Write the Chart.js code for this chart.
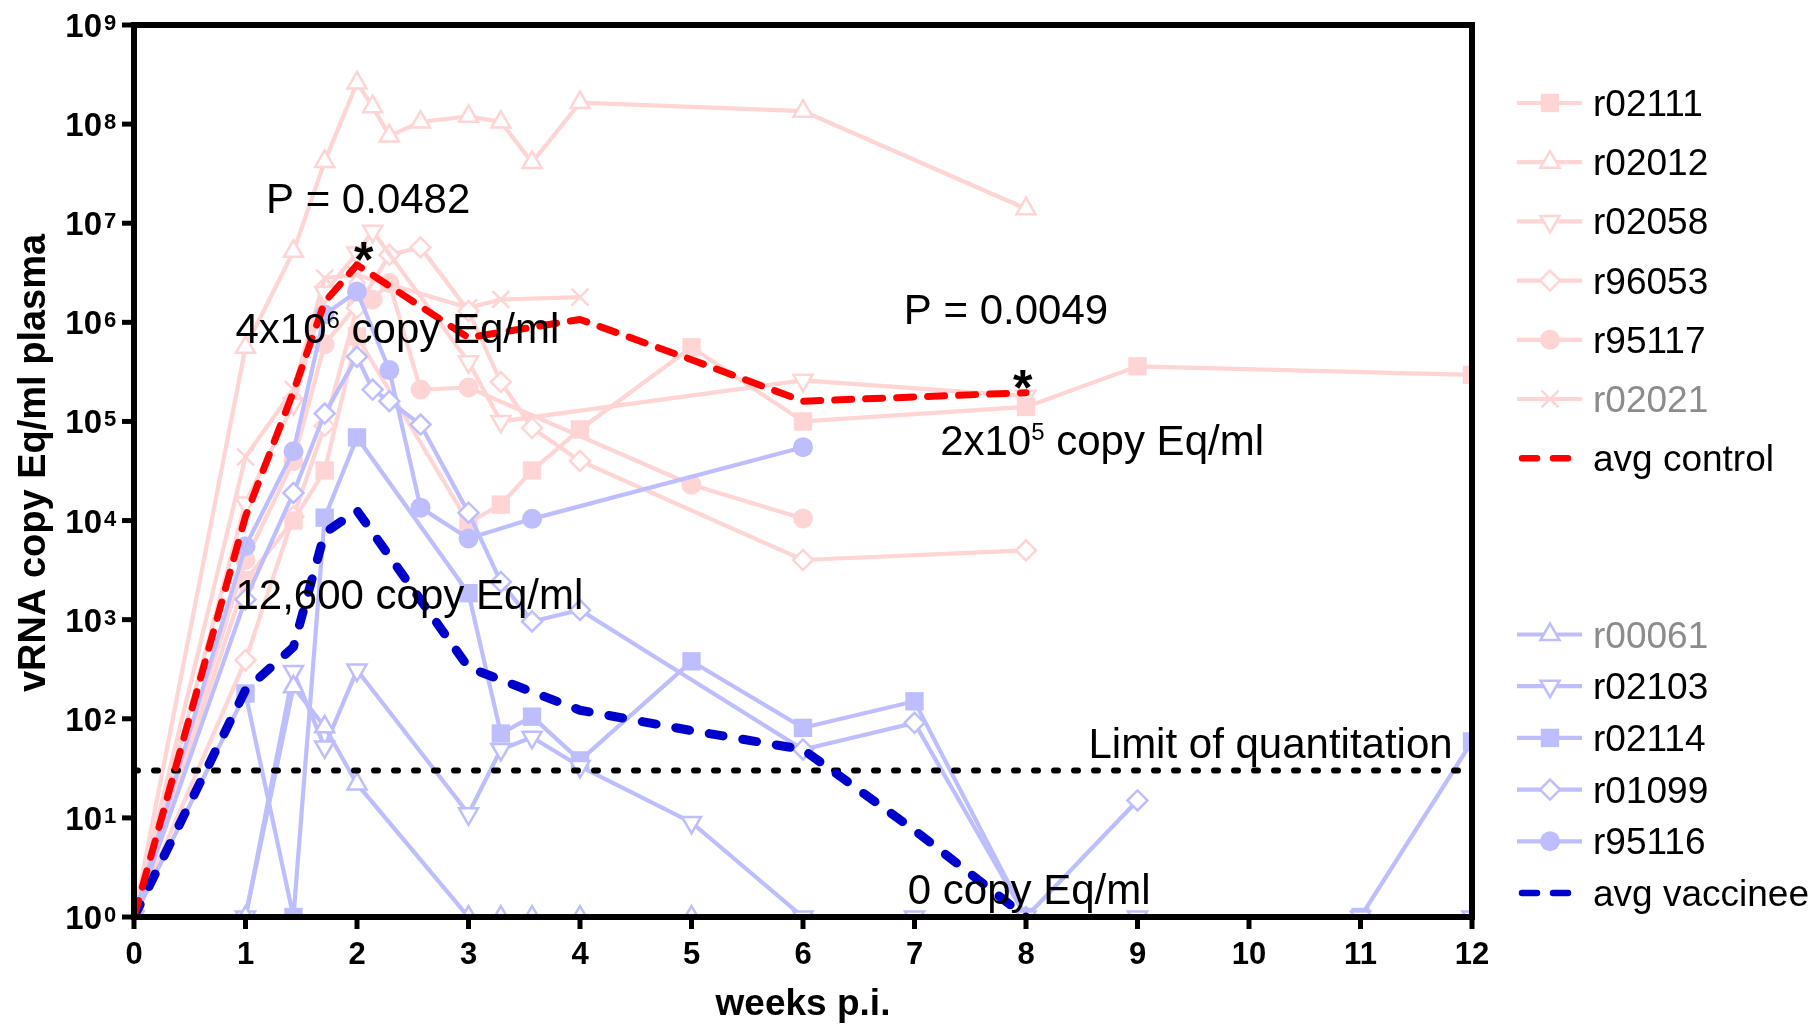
<!DOCTYPE html>
<html>
<head>
<meta charset="utf-8">
<title>vRNA copy Eq/ml plasma</title>
<script src="https://cdn.jsdelivr.net/npm/chart.js@4.4.0/dist/chart.umd.min.js"></script>
<style>
  html, body { margin: 0; padding: 0; background: #fff; }
  canvas { display: block; }
</style>
</head>
<body>
<canvas id="vl-chart" width="1817" height="1024"></canvas>
<script>
const FONT = "'Liberation Sans', Arial, sans-serif";
const PINK = "rgb(255, 212, 212)";
const LIGHT_BLUE = "rgb(190, 190, 255)";

// axis ticks
const weekTicks = [0, 1, 2, 3, 4, 5, 6, 7, 8, 9, 10, 11, 12];
const decadeExponents = [0, 1, 2, 3, 4, 5, 6, 7, 8, 9];

// controls (weeks p.i. / copy Eq/ml)
const r02111Weeks = [0, 1, 1.43, 1.71, 2, 3, 3.29, 3.57, 4, 5, 6, 8, 9, 12];
const r02111Values = [1, 2500, 10000, 32000, 720000, 9500, 14500, 32000, 83000, 560000, 100000, 140000, 360000, 295000];

const r02012Weeks = [0, 1, 1.43, 1.71, 2, 2.14, 2.29, 2.57, 3, 3.29, 3.57, 4, 6, 8];
const r02012Values = [1, 560000, 5200000, 42000000, 260000000, 150000000, 76000000, 105000000, 120000000, 105000000, 41000000, 165000000, 135000000, 14000000];

const r02058Weeks = [0, 1, 1.43, 1.71, 2, 2.14, 3, 3.29, 6, 8];
const r02058Values = [1, 15000, 150000, 2000000, 5000000, 8300000, 400000, 100000, 260000, 180000];

const r96053Weeks = [0, 1, 1.43, 1.71, 2, 2.29, 2.57, 3, 3.29, 3.57, 4, 6, 8];
const r96053Values = [1, 390, 11000, 90000, 1400000, 4800000, 5700000, 1300000, 250000, 86000, 40000, 4000, 5000];

const r95117Weeks = [0, 1, 1.43, 1.71, 2, 2.14, 2.29, 2.57, 3, 5, 6];
const r95117Values = [1, 4000, 40000, 600000, 1500000, 1700000, 2500000, 210000, 220000, 23000, 10500];

const r02021Weeks = [0, 1, 1.43, 1.71, 2, 3, 3.29, 4];
const r02021Values = [1, 44000, 210000, 2800000, 3000000, 1400000, 1700000, 1800000];

const avgControlWeeks = [0, 1, 1.43, 1.71, 2, 3, 4, 5, 6, 8];
const avgControlValues = [1, 11000, 200000, 1600000, 3800000, 700000, 1070000, 420000, 160000, 195000];

// vaccinees
const r00061Weeks = [0, 1, 1.43, 1.71, 2, 3, 3.29, 3.57, 4, 5];
const r00061Values = [1, 1, 210, 83, 22, 1, 1, 1, 1, 1];

const r02103Weeks = [0, 1, 1.43, 1.71, 2, 3, 3.29, 3.57, 4, 5, 6, 7, 8, 9, 11, 12];
const r02103Values = [1, 1, 300, 52, 310, 11, 49, 65, 33, 9, 1, 1, 1, 1, 1, 1];

const r02114Weeks = [0, 1, 1.43, 1.71, 2, 3, 3.29, 3.57, 4, 5, 6, 7, 8, 11, 12];
const r02114Values = [1, 180, 1, 10700, 69000, 1850, 71, 105, 38, 380, 81, 150, 1, 1, 59];

const r01099Weeks = [0, 1, 1.43, 1.71, 2, 2.14, 2.29, 2.57, 3, 3.29, 3.57, 4, 6, 7, 8, 9];
const r01099Values = [1, 1600, 19000, 120000, 450000, 210000, 160000, 93000, 12000, 2400, 960, 1250, 49, 91, 1, 15];

const r95116Weeks = [0, 1, 1.43, 1.71, 2, 2.29, 2.57, 3, 3.57, 6];
const r95116Values = [1, 5500, 50000, 1200000, 2050000, 330000, 13500, 6600, 10400, 55000];

const avgVaccineeWeeks = [0, 1, 1.43, 1.71, 2, 3, 4, 5, 6, 7, 8];
const avgVaccineeValues = [1, 195, 530, 7500, 12600, 330, 122, 76, 49, 7.5, 1];

const limitOfQuantitation = 30;

// text placed on the plot, anchored at [week, copies]
const annotations = [
  { parts: [{ t: "P = 0.0482" }], at: [2.10, 1.8e7], align: "center" },
  { parts: [{ t: "*" }], at: [2.06, 5.5e6], align: "center", star: true },
  { parts: [{ t: "4x10" }, { t: "6", sup: true }, { t: " copy Eq/ml" }], at: [0.91, 8.8e5], align: "left" },
  { parts: [{ t: "P = 0.0049" }], at: [7.82, 1.38e6], align: "center" },
  { parts: [{ t: "*" }], at: [7.97, 2.8e5], align: "center", star: true },
  { parts: [{ t: "2x10" }, { t: "5", sup: true }, { t: " copy Eq/ml" }], at: [7.23, 6.5e4], align: "left" },
  { parts: [{ t: "12,600 copy Eq/ml" }], at: [0.91, 1.8e3], align: "left" },
  { parts: [{ t: "Limit of quantitation" }], at: [8.56, 57], align: "left" },
  { parts: [{ t: "0 copy Eq/ml" }], at: [6.94, 1.9], align: "left" }
];

const SQUARE = { style: "rect", radius: 13 };
const TRIANGLE_UP = { style: "triangle", radius: 11, open: true };
const TRIANGLE_DOWN = { style: "triangle", radius: 11, rotation: 180, open: true };
const DIAMOND = { style: "rectRot", radius: 10, open: true };
const CIRCLE = { style: "circle", radius: 10 };
const CROSS = { style: "crossRot", radius: 12, open: true };

function toPoints(weeks, values) {
    return weeks.map((w, i) => ({ x: w, y: values[i] }));
}

function individual(label, weeks, values, color, marker, order) {
    return {
        label: label,
        data: toPoints(weeks, values),
        borderColor: color,
        borderWidth: 4.2,
        pointStyle: marker.style,
        pointRadius: marker.radius,
        pointRotation: marker.rotation || 0,
        pointBackgroundColor: marker.open ? "#ffffff" : color,
        pointBorderColor: color,
        pointBorderWidth: marker.open ? 2.5 : 0,
        order: order
    };
}

function average(label, weeks, values, color, width, dash) {
    return {
        label: label,
        data: toPoints(weeks, values),
        borderColor: color,
        borderWidth: width,
        borderDash: dash,
        borderCapStyle: "round",
        borderJoinStyle: "round",
        pointRadius: 0,
        average: true,
        order: 0
    };
}

const datasets = [
    individual("r02111", r02111Weeks, r02111Values, PINK, SQUARE, 3),
    individual("r02012", r02012Weeks, r02012Values, PINK, TRIANGLE_UP, 3),
    individual("r02058", r02058Weeks, r02058Values, PINK, TRIANGLE_DOWN, 3),
    individual("r96053", r96053Weeks, r96053Values, PINK, DIAMOND, 3),
    individual("r95117", r95117Weeks, r95117Values, PINK, CIRCLE, 3),
    individual("r02021", r02021Weeks, r02021Values, PINK, CROSS, 3),
    average("avg control", avgControlWeeks, avgControlValues, "#ff0000", 7, [17, 14]),
    individual("r00061", r00061Weeks, r00061Values, LIGHT_BLUE, TRIANGLE_UP, 2),
    individual("r02103", r02103Weeks, r02103Values, LIGHT_BLUE, TRIANGLE_DOWN, 2),
    individual("r02114", r02114Weeks, r02114Values, LIGHT_BLUE, SQUARE, 2),
    individual("r01099", r01099Weeks, r01099Values, LIGHT_BLUE, DIAMOND, 2),
    individual("r95116", r95116Weeks, r95116Values, LIGHT_BLUE, CIRCLE, 2),
    average("avg vaccinee", avgVaccineeWeeks, avgVaccineeValues, "#0000cc", 9, [14, 20]),
    {
        label: "LoQ",
        data: [{ x: weekTicks[0], y: limitOfQuantitation }, { x: weekTicks[weekTicks.length - 1], y: limitOfQuantitation }],
        borderColor: "#000000",
        borderWidth: 6,
        borderDash: [4, 16],
        borderCapStyle: "round",
        pointRadius: 0,
        noLegend: true,
        order: 1
    }
];

const greyedLabels = ["r02021", "r00061"];

function drawRich(ctx, parts, x, y, size, align) {
    const supSize = Math.round(size * 0.58);
    let total = 0;
    parts.forEach(p => {
        ctx.font = (p.sup ? supSize : size) + "px " + FONT;
        total += ctx.measureText(p.t).width;
    });
    let cx = align === "center" ? x - total / 2 : x;
    const base = y + size * 0.358;
    ctx.textAlign = "left";
    ctx.textBaseline = "alphabetic";
    parts.forEach(p => {
        ctx.font = (p.sup ? supSize : size) + "px " + FONT;
        ctx.fillText(p.t, cx, p.sup ? base - size * 0.36 : base);
        cx += ctx.measureText(p.t).width;
    });
}

const frame = {
    id: "frame",
    afterDatasetsDraw(chart) {
        const ctx = chart.ctx;
        const a = chart.chartArea;
        const x = chart.scales.x;
        const y = chart.scales.y;
        ctx.save();
        ctx.fillStyle = "#000";
        ctx.strokeStyle = "#000";

        // plot box
        ctx.lineWidth = 6;
        ctx.lineJoin = "miter";
        ctx.strokeRect(a.left, a.top, a.right - a.left, a.bottom - a.top);

        // tick marks
        ctx.lineWidth = 5;
        weekTicks.forEach(w => {
            const px = x.getPixelForValue(w);
            ctx.beginPath();
            ctx.moveTo(px, a.bottom);
            ctx.lineTo(px, a.bottom + 12);
            ctx.stroke();
        });
        decadeExponents.forEach(e => {
            const py = y.getPixelForValue(Math.pow(10, e));
            ctx.beginPath();
            ctx.moveTo(a.left - 12, py);
            ctx.lineTo(a.left, py);
            ctx.stroke();
        });

        // tick labels
        ctx.textBaseline = "alphabetic";
        ctx.font = "bold 31px " + FONT;
        ctx.textAlign = "center";
        weekTicks.forEach(w => {
            ctx.fillText(String(w), x.getPixelForValue(w), a.bottom + 47);
        });
        decadeExponents.forEach(e => {
            const py = y.getPixelForValue(Math.pow(10, e));
            ctx.font = "bold 33px " + FONT;
            ctx.textAlign = "right";
            ctx.fillText("10", a.left - 32, py + 12);
            ctx.font = "bold 22px " + FONT;
            ctx.textAlign = "left";
            ctx.fillText(String(e), a.left - 30, py + 5);
        });

        // axis titles
        ctx.font = "bold 37px " + FONT;
        ctx.textAlign = "center";
        ctx.fillText("weeks p.i.", (a.left + a.right) / 2, a.bottom + 98);
        ctx.save();
        ctx.translate(45, (a.top + a.bottom) / 2 - 8);
        ctx.rotate(-Math.PI / 2);
        ctx.font = "bold 38px " + FONT;
        ctx.fillText("vRNA copy Eq/ml plasma", 0, 0);
        ctx.restore();

        // annotations
        annotations.forEach(n => {
            const px = x.getPixelForValue(n.at[0]);
            const py = y.getPixelForValue(n.at[1]);
            if (n.star) {
                ctx.font = "bold 50px " + FONT;
                ctx.textAlign = "center";
                ctx.fillText("*", px, py + 28);
            } else {
                drawRich(ctx, n.parts, px, py, 42, n.align);
            }
        });

        // legend
        const drawPoint = Chart.helpers && Chart.helpers.drawPoint;
        const entries = chart.data.datasets.filter(d => !d.noLegend);
        entries.forEach((d, i) => {
            const cy = i < 7 ? 103 + i * 59.2 : 634.5 + (i - 7) * 51.7;
            ctx.save();
            if (d.average) {
                ctx.strokeStyle = d.borderColor;
                ctx.lineWidth = 6.5;
                ctx.lineCap = "round";
                ctx.setLineDash([15, 16]);
                ctx.beginPath();
                ctx.moveTo(1522, cy);
                ctx.lineTo(1580, cy);
                ctx.stroke();
            } else {
                ctx.strokeStyle = d.borderColor;
                ctx.lineWidth = d.borderWidth;
                ctx.beginPath();
                ctx.moveTo(1517, cy);
                ctx.lineTo(1582, cy);
                ctx.stroke();
                if (drawPoint) {
                    ctx.fillStyle = d.pointBackgroundColor;
                    ctx.strokeStyle = d.pointBorderColor;
                    ctx.lineWidth = d.pointBorderWidth;
                    drawPoint(ctx, {
                        pointStyle: d.pointStyle,
                        radius: d.pointRadius,
                        rotation: d.pointRotation,
                        borderWidth: d.pointBorderWidth
                    }, 1550, cy);
                }
            }
            ctx.restore();
            ctx.font = "37px " + FONT;
            ctx.textAlign = "left";
            ctx.fillStyle = greyedLabels.includes(d.label) ? "#8c8c8c" : "#000";
            ctx.fillText(d.label, 1593, cy + 13);
        });

        ctx.restore();
    }
};

new Chart(document.getElementById("vl-chart"), {
    type: "line",
    data: { datasets: datasets },
    options: {
        responsive: false,
        animation: false,
        events: [],
        layout: { padding: { left: 134, right: 345, top: 25, bottom: 107 } },
        elements: { line: { tension: 0 } },
        plugins: {
            legend: { display: false },
            tooltip: { enabled: false }
        },
        scales: {
            x: { type: "linear", min: 0, max: 12, display: false },
            y: { type: "logarithmic", min: 1, max: 1e9, display: false }
        }
    },
    plugins: [frame]
});
</script>
</body>
</html>
